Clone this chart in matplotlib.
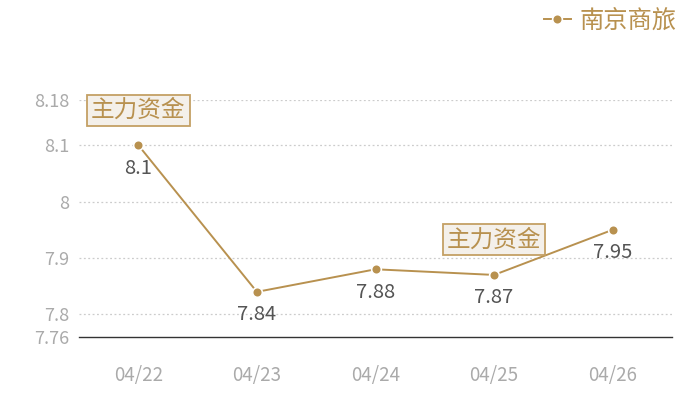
import matplotlib
matplotlib.use('Agg')
import matplotlib.pyplot as plt

plt.rcParams['font.family'] = ['Noto Sans CJK SC', 'DejaVu Sans']

dates = ['04/22', '04/23', '04/24', '04/25', '04/26']
prices = [8.1, 7.84, 7.88, 7.87, 7.95]
series_name = '南京商旅'
flag_idx = [0, 3]
flag_text = '主力资金'
yticks = [7.76, 7.8, 7.9, 8, 8.1, 8.18]
ytick_labels = ['7.76', '7.8', '7.9', '8', '8.1', '8.18']

gold = '#b8914f'

fig = plt.figure(figsize=(7, 4), dpi=100)
ax = fig.add_axes([79/700, 1-337/400, (672-79)/700, (337-100)/400])

x = list(range(len(dates)))
line, = ax.plot(x, prices, color=gold, lw=1.4, marker='o', ms=7,
                mfc=gold, mec='white', mew=1.2, label=series_name, zorder=3)

for i, v in zip(x, prices):
    ax.annotate(f'{v:g}', (i, v), xytext=(0, -23), textcoords='offset pixels',
                ha='center', va='center', fontsize=14.5, color='#555555', zorder=4)

for i in flag_idx:
    ax.annotate(flag_text, (i, prices[i]), xytext=(0, 35), textcoords='offset pixels',
                ha='center', va='center', fontsize=17, color=gold, zorder=5,
                bbox=dict(boxstyle='square,pad=0.17', fc='#f4f0ea', ec='#c4a064', lw=1.3))

ax.set_xlim(-0.5, len(dates) - 0.5)
ax.set_ylim(7.76, 8.18)
ax.set_xticks(x)
ax.set_xticklabels(dates, fontsize=13.5, color='#aaaaaa')
ax.set_yticks(yticks)
ax.set_yticklabels(ytick_labels, fontsize=13, color='#aaaaaa')
ax.tick_params(length=0, pad=7)
ax.tick_params(axis='x', pad=20)

for t in yticks[1:]:
    ax.axhline(t, color='#cccccc', lw=0.9, ls=(0, (1.5, 2)), zorder=1)

for s in ['top', 'right', 'left']:
    ax.spines[s].set_visible(False)
ax.spines['bottom'].set_color('#333333')
ax.spines['bottom'].set_linewidth(1)

fig.legend(handles=[line], loc='upper right', bbox_to_anchor=(698/700, 1.035),
           frameon=False, fontsize=17.5, labelcolor=gold, handlelength=1.1,
           handletextpad=0.35)

fig.savefig('out.png', dpi=100)
